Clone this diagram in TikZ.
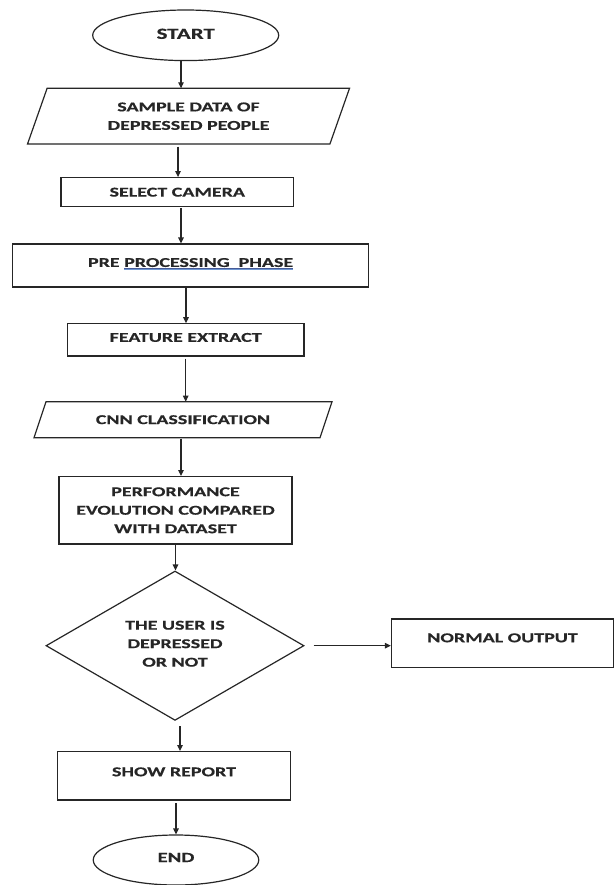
\documentclass[tikz,border=0pt]{standalone}
\usepackage{fontspec}
\newfontfamily\flowfont{Carlito}[FakeStretch=1.48,FakeBold=0.5]
\usetikzlibrary{shapes.geometric,arrows.meta}
\definecolor{ulA}{RGB}{70,90,150}
\definecolor{ulB}{RGB}{110,150,210}
\newcommand\dblul[1]{\setbox0=\hbox{#1}\rlap{\color{ulA}\rule[-1.3pt]{\wd0}{0.7pt}}\rlap{\color{ulB}\rule[-3.1pt]{\wd0}{0.7pt}}\box0}
\begin{document}
\begin{tikzpicture}[x=1pt,y=-1pt,
  every node/.style={font=\flowfont\bfseries\fontsize{13.5}{18.5}\selectfont, align=center, inner sep=0pt, text=black!85},
  shapeline/.style={draw=black!85, line width=1.2pt},
  boxnode/.style={shapeline, rectangle},
  ovalnode/.style={shapeline, ellipse},
  slantbox/.style={rectangle, draw=none, outer sep=0pt},
  arr/.style={draw=black!85, line width=1.2pt, -{Triangle[length=6pt,width=5.5pt]}}]
\useasboundingbox[fill=white] (0,0) rectangle (614,885);

% nodes
\node[ovalnode, minimum width=186pt, minimum height=50.6pt, text depth=3pt, font=\flowfont\bfseries\fontsize{15.5}{18}\selectfont] (start) at (185.7,35.3) {START};
\node[slantbox, minimum width=322pt, minimum height=55.7pt] (p1) at (188.5,116.2) {SAMPLE DATA OF\\DEPRESSED PEOPLE};
\draw[shapeline] ([xshift=19.6pt]p1.north west) -- (p1.north east) -- ([xshift=-19.6pt]p1.south east) -- (p1.south west) -- cycle;
\node[boxnode, minimum width=232.5pt, minimum height=29pt] (sel) at (177.3,192.2) {SELECT CAMERA};
\node[boxnode, minimum width=356.2pt, minimum height=43pt, text depth=6pt] (pre) at (190.6,265.5) {PRE \dblul{PROCESSING\ \ PHASE}};
\node[boxnode, minimum width=236.7pt, minimum height=32.3pt, text depth=5pt] (feat) at (185.7,339.9) {FEATURE EXTRACT};
\node[slantbox, minimum width=298pt, minimum height=36pt] (cnn) at (183,419.7) {CNN CLASSIFICATION};
\draw[shapeline] ([xshift=12pt]cnn.north west) -- (cnn.north east) -- ([xshift=-12pt]cnn.south east) -- (cnn.south west) -- cycle;
\node[boxnode, minimum width=233pt, minimum height=67.3pt] (perf) at (175.5,510.3) {PERFORMANCE\\EVOLUTION COMPARED\\WITH DATASET};
\node[shapeline, diamond, minimum width=258pt, minimum height=146pt, text depth=4pt] (dia) at (175,645.7) {THE USER IS\\DEPRESSED\\OR NOT};
\node[boxnode, minimum width=222pt, minimum height=48.7pt, text depth=11pt] (norm) at (502.5,643.3) {NORMAL OUTPUT};
\node[boxnode, minimum width=233pt, minimum height=48.3pt, text depth=8pt] (show) at (174,775.8) {SHOW REPORT};
\node[ovalnode, minimum width=165.5pt, minimum height=50pt, text depth=5pt, font=\flowfont\bfseries\fontsize{14}{17}\selectfont] (end) at (176,860) {END};

% connectors
\draw[arr] ([xshift=-4.7pt]start.south) -- ([xshift=-4.7pt]start.south |- p1.north);
\draw[arr, shorten <=2.5pt] ([xshift=-10.5pt]p1.south) -- ([xshift=-10.5pt]p1.south |- sel.north);
\draw[arr, shorten <=1pt] ([xshift=3.7pt]sel.south) -- ([xshift=3.7pt]sel.south |- pre.north);
\draw[arr] ([xshift=-4.6pt]pre.south) -- ([xshift=-4.6pt]pre.south |- feat.north);
\draw[arr, shorten <=2pt] (feat.south) -- (feat.south |- cnn.north);
\draw[arr, shorten <=1pt] ([xshift=-2pt]cnn.south) -- ([xshift=-2pt]cnn.south |- perf.north);
\draw[arr] (perf.south) -- (perf.south |- dia.north);
\draw[arr, shorten <=5.5pt] ([xshift=5pt]dia.south) -- ([xshift=5pt]dia.south |- show.north);
\draw[arr, shorten <=2.5pt] ([xshift=2pt]show.south) -- ([xshift=2pt]show.south |- end.north);
\draw[arr, shorten <=9pt] (dia.east) -- (dia.east -| norm.west);
\end{tikzpicture}
\end{document}
